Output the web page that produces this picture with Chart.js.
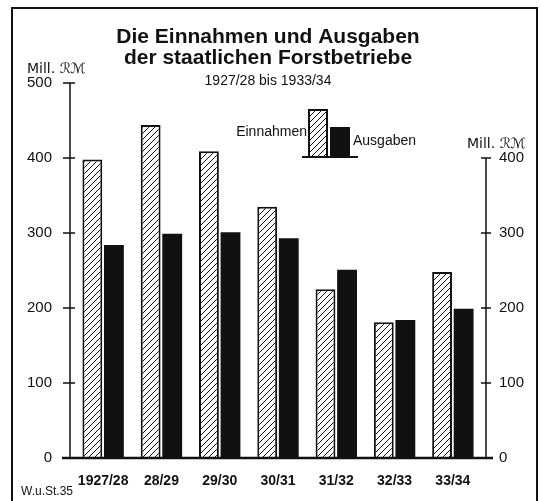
<!DOCTYPE html>
<html>
<head>
<meta charset="utf-8">
<script src="https://cdn.jsdelivr.net/npm/chart.js@4"></script>
<style>
  body { margin: 0; background: #fff; }
  #wrap { width: 541px; height: 501px; position: relative; }
</style>
</head>
<body>
<div id="wrap"><canvas id="myCanvas"></canvas></div>
<script>
let jahre = ["1927/28", "28/29", "29/30", "30/31", "31/32", "32/33", "33/34"]
let einnahmen = [398, 444, 409, 335, 225, 181, 248]
let ausgaben = [284, 299, 301, 293, 251, 184, 199]
let tickWerte = [0, 100, 200, 300, 400, 500]
let tickWerteRechts = [0, 100, 200, 300, 400]

// schraffur fuer die einnahmen
function schraffur() {
  let c = document.createElement("canvas")
  c.width = 6
  c.height = 6
  let g = c.getContext("2d")
  g.fillStyle = "#fff"
  g.fillRect(0, 0, 6, 6)
  g.strokeStyle = "#111"
  g.lineWidth = 1
  g.beginPath()
  g.moveTo(-1, 7); g.lineTo(7, -1)
  g.moveTo(-1, 1); g.lineTo(1, -1)
  g.moveTo(5, 7); g.lineTo(7, 5)
  g.stroke()
  return g.createPattern(c, "repeat")
}

let muster = schraffur()

let deko = {
  id: "deko",
  afterDraw(chart) {
    let ctx = chart.ctx
    let area = chart.chartArea
    let y = chart.scales.y
    let y2 = chart.scales.y2
    let axL = area.left - 4
    let axR = area.right + 4
    ctx.save()
    ctx.fillStyle = "#111"
    ctx.strokeStyle = "#111"

    // rahmen
    ctx.lineWidth = 2
    ctx.strokeRect(12, 8, 525, 500)

    // titel
    ctx.textAlign = "center"
    ctx.textBaseline = "middle"
    ctx.font = "bold 21px 'Liberation Sans'"
    ctx.fillText("Die Einnahmen und Ausgaben", 268, 37)
    ctx.fillText("der staatlichen Forstbetriebe", 268, 58)
    ctx.font = "14px 'Liberation Sans'"
    ctx.fillText("1927/28 bis 1933/34", 268, 81)

    // einheiten
    ctx.font = "14px 'DejaVu Sans'"
    ctx.textAlign = "left"
    ctx.fillText("Mill. ℛℳ", 27, 69)
    ctx.fillText("Mill. ℛℳ", 467, y2.getPixelForValue(400) - 14)

    // fussnote
    ctx.font = "12px 'Liberation Sans'"
    ctx.fillText("W.u.St.35", 21, 492)

    // linke achse
    ctx.lineWidth = 1.5
    ctx.beginPath()
    ctx.moveTo(axL, y.getPixelForValue(500))
    ctx.lineTo(axL, area.bottom)
    tickWerte.forEach(v => {
      let p = y.getPixelForValue(v)
      ctx.moveTo(axL - 7, p)
      ctx.lineTo(axL + 5, p)
    })
    ctx.stroke()

    // rechte achse
    ctx.beginPath()
    ctx.moveTo(axR, y2.getPixelForValue(400))
    ctx.lineTo(axR, area.bottom)
    tickWerteRechts.forEach(v => {
      let p = y2.getPixelForValue(v)
      ctx.moveTo(axR - 5, p)
      ctx.lineTo(axR + 5, p)
    })
    ctx.stroke()

    // grundlinie
    ctx.lineWidth = 2.5
    ctx.beginPath()
    ctx.moveTo(axL - 8, area.bottom)
    ctx.lineTo(axR + 7, area.bottom)
    ctx.stroke()

    // legende
    let lx = 309, lb = 157
    ctx.lineWidth = 2
    ctx.fillStyle = muster
    ctx.fillRect(lx, lb - 47, 18, 47)
    ctx.strokeRect(lx, lb - 47, 18, 47)
    ctx.fillStyle = "#111"
    ctx.fillRect(lx + 21, lb - 30, 20, 30)
    ctx.beginPath()
    ctx.moveTo(lx - 7, lb)
    ctx.lineTo(lx + 49, lb)
    ctx.stroke()
    ctx.font = "14px 'Liberation Sans'"
    ctx.textAlign = "right"
    ctx.fillText("Einnahmen", lx - 2, 132)
    ctx.textAlign = "left"
    ctx.fillText("Ausgaben", lx + 44, 141)
    ctx.restore()
  }
}

let myCanvas = document.querySelector("#myCanvas").getContext("2d")

let chart = new Chart(myCanvas, {
  type: "bar",
  data: {
    labels: jahre,
    datasets: [
      {
        label: "Einnahmen",
        data: einnahmen,
        backgroundColor: muster,
        borderColor: "#111",
        borderWidth: 2,
        borderSkipped: "bottom",
        yAxisID: "y",
      },
      {
        label: "Ausgaben",
        data: ausgaben,
        backgroundColor: "#111",
        borderWidth: 0,
        yAxisID: "y",
      },
    ],
  },
  options: {
    responsive: true,
    maintainAspectRatio: false,
    animation: false,
    categoryPercentage: 0.74,
    barPercentage: 0.92,
    layout: { padding: { top: 83, left: 0, right: 0, bottom: 0 } },
    plugins: {
      legend: { display: false },
      tooltip: { enabled: false },
    },
    scales: {
      x: {
        grid: { display: false },
        border: { display: false },
        ticks: {
          color: "#111",
          padding: 7,
          font: { family: "'Liberation Sans'", size: 14, weight: "bold" },
        },
        afterFit: s => { s.height = 43 },
      },
      y: {
        position: "left",
        min: 0,
        max: 500,
        afterBuildTicks: s => { s.ticks = tickWerte.map(v => ({ value: v })) },
        grid: { display: false },
        border: { display: false },
        ticks: {
          color: "#111",
          padding: 14,
          font: { family: "'Liberation Sans'", size: 15 },
        },
        afterFit: s => { s.width = 74 },
      },
      y2: {
        position: "right",
        min: 0,
        max: 500,
        afterBuildTicks: s => { s.ticks = tickWerteRechts.map(v => ({ value: v })) },
        grid: { display: false },
        border: { display: false },
        ticks: {
          color: "#111",
          padding: 9,
          font: { family: "'Liberation Sans'", size: 15 },
        },
        afterFit: s => { s.width = 59 },
      },
    },
  },
  plugins: [deko],
})
</script>
</body>
</html>
